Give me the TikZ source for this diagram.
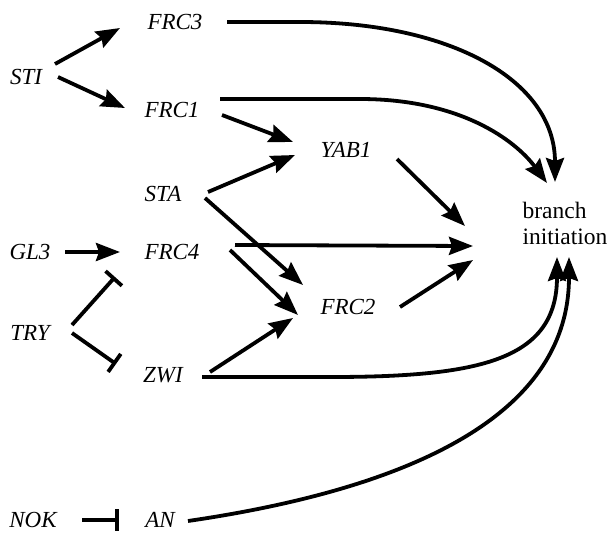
\documentclass[tikz,border=0pt]{standalone}
\usepackage{fontspec}
\newfontfamily\timesfont{Liberation Serif}
\usetikzlibrary{arrows.meta}
\tikzset{
  gene/.style={inner sep=0pt, font=\timesfont\fontsize{23}{26}\selectfont\itshape},
  outcome/.style={inner sep=0pt, align=left, font=\timesfont\fontsize{23.5}{26}\selectfont},
  act/.style={line width=3.8pt, -{Stealth[length=24pt,width=18pt,inset=3pt]}},
  inh/.style={line width=3.8pt, -{Bar[width=22pt]}},
}
\begin{document}
\begin{tikzpicture}[x=1pt,y=-1pt]
\fill[white] (0,0) rectangle (612,533);
\useasboundingbox (0,0) rectangle (612,533);

\node[gene] (FRC3) at (175,22) {FRC3};
\node[gene] (STI) at (26,77) {STI};
\node[gene] (FRC1) at (172,110) {FRC1};
\node[gene] (YAB1) at (346,150) {YAB1};
\node[gene] (STA) at (163,194) {STA};
\node[gene] (GL3) at (30,252) {GL3};
\node[gene] (FRC4) at (172,252) {FRC4};
\node[outcome] (BI) at (565,223) {branch\\initiation};
\node[gene] (TRY) at (30,333) {TRY};
\node[gene] (FRC2) at (348,307) {FRC2};
\node[gene] (ZWI) at (163,375) {ZWI};
\node[gene] (NOK) at (33,520) {NOK};
\node[gene] (AN) at (160,520) {AN};

% STI
\draw[act] ([shift={(29,-13)}]STI.center) -- ([shift={(-55,6)}]FRC3.center);
\draw[act] ([shift={(32,0)}]STI.center) -- ([shift={(-47,-2)}]FRC1.center);

% long curves to branch initiation
\draw[act] ([shift={(52,0)}]FRC3.center) -- (300,22) .. controls (450,22) and (555,80) .. ([shift={(-10,-41)}]BI.center);
\draw[act] ([shift={(48,-11)}]FRC1.center) -- (360,99) .. controls (460,99) and (515,140) .. ([shift={(-18,-40)}]BI.center);

% to YAB1
\draw[act] ([shift={(50,5)}]FRC1.center) -- ([shift={(-53,-8)}]YAB1.center);
\draw[act] ([shift={(45,-2)}]STA.center) -- ([shift={(-51,5)}]YAB1.center);

% to FRC2
\draw[act] ([shift={(42,4)}]STA.center) -- ([shift={(-45,-22)}]FRC2.center);
\draw[act] ([shift={(58,-2)}]FRC4.center) -- ([shift={(-50,8)}]FRC2.center);
\draw[act] ([shift={(47,-3)}]ZWI.center) -- ([shift={(-55,11)}]FRC2.center);

% to branch initiation (straight)
\draw[act] ([shift={(51,9)}]YAB1.center) -- ([shift={(-100,3)}]BI.center);
\draw[act] ([shift={(63,-7)}]FRC4.center) -- ([shift={(-92,23)}]BI.center);
\draw[act] ([shift={(52,0)}]FRC2.center) -- ([shift={(-92,37)}]BI.center);

% bottom curves
\draw[act] ([shift={(39,2)}]ZWI.center) -- (330,377) .. controls (480,377) and (557,360) .. ([shift={(-8,34)}]BI.center);
\draw[act] ([shift={(28,1)}]AN.center) .. controls (400,490) and (569,420) .. ([shift={(4,34)}]BI.center);

% GL3, TRY, NOK
\draw[act] ([shift={(35,0)}]GL3.center) -- ([shift={(-52,0)}]FRC4.center);
\draw[inh] ([shift={(42,-8)}]TRY.center) -- ([shift={(-57,25)}]FRC4.center);
\draw[inh] ([shift={(42,0)}]TRY.center) -- ([shift={(-47,-11)}]ZWI.center);
\draw[inh] ([shift={(49,0)}]NOK.center) -- ([shift={(-41,0)}]AN.center);
\end{tikzpicture}
\end{document}
